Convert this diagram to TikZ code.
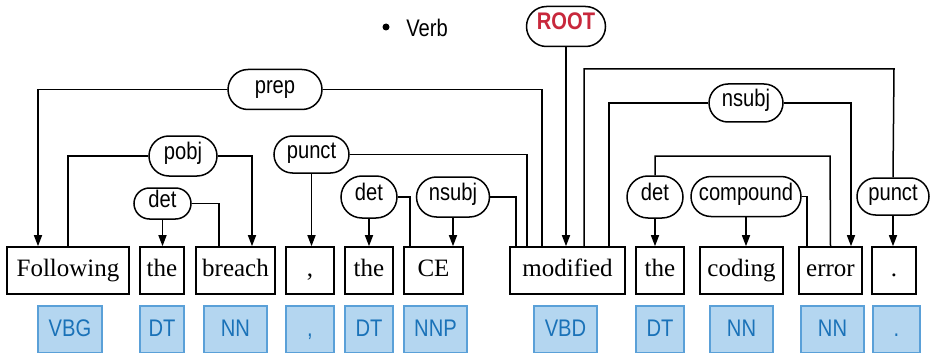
\documentclass[tikz,border=0pt]{standalone}
\usepackage{fontspec}
\usepackage{tikz}
\usetikzlibrary{arrows.meta,shapes.misc,calc}
\newfontfamily\lblfont[FakeStretch=0.84]{Liberation Sans}
\newfontfamily\tokfont{Liberation Serif}
\definecolor{tagfill}{RGB}{180,214,240}
\definecolor{tagline}{RGB}{90,160,216}
\definecolor{tagtext}{RGB}{26,114,184}
\definecolor{rootred}{RGB}{200,40,60}
\newcommand{\relfont}{\lblfont\fontsize{24pt}{28pt}\selectfont}
\newcommand{\wordfont}{\tokfont\fontsize{25pt}{29pt}\selectfont}

\begin{document}
\begin{tikzpicture}[x=1pt,y=-1pt,
  word/.style={draw,line width=1.6pt,minimum height=47pt,inner sep=0pt,font=\wordfont,text height=17pt,text depth=6pt},
  tag/.style={draw=tagline,fill=tagfill,line width=1.3pt,minimum height=47pt,inner sep=0pt,font=\relfont,text=tagtext,text height=17pt,text depth=3pt},
  rel/.style={draw,rounded rectangle,line width=1.5pt,fill=white,minimum height=40pt,inner sep=0pt,font=\relfont,text height=13pt,text depth=6pt},
  dep/.style={line width=1.5pt,-{Triangle[width=8pt,length=11pt]}},
  link/.style={line width=1.5pt}]
  \useasboundingbox (0,0) rectangle (930,353);

  % legend
  \node[circle,fill,inner sep=0pt,minimum size=7pt] (vdot) at (386,27) {};
  \node[font=\relfont,inner sep=0pt] (verb) at (427,28) {Verb};

  % tokens and their tags
  \foreach \n/\x/\w/\t in {1/68/122/Following, 2/162/44/the, 3/235.5/79/breach, 4/310/48/{,},
      5/369/48/the, 6/433.5/59/CE, 7/567.5/115/modified, 8/660/48/the, 9/741.5/83/coding,
      10/830.5/63/error, 11/894/44/.}
    \node[word,minimum width=\w pt] (w\n) at (\x,270.5) {\t};
  \foreach \n/\x/\w/\t in {1/70/64/VBG, 2/162/44/DT, 3/235.5/63/NN, 4/310/48/{,},
      5/369/48/DT, 6/435.5/63/NNP, 7/565.5/63/VBD, 8/660/48/DT, 9/741.5/63/NN,
      10/832.5/63/NN, 11/896.5/47/.}
    \node[tag,minimum width=\w pt] (p\n) at (\x,329.5) {\t};

  % relation labels
  \node[rel,minimum width=94pt] (prep) at (275,89.5) {prep};
  \node[rel,minimum width=68pt] (pobj) at (183,156) {pobj};
  \node[rel,minimum width=57pt,minimum height=31pt] (det1) at (162.5,203.5) {det};
  \node[rel,minimum width=75pt,minimum height=37pt] (punct1) at (311.5,154.5) {punct};
  \node[rel,minimum width=56pt,minimum height=42pt] (det2) at (369,197) {det};
  \node[rel,minimum width=73pt] (nsubj1) at (453,197) {nsubj};
  \node[rel,minimum width=79pt,text=rootred,font=\relfont\bfseries] (root) at (566,26.5) {ROOT};
  \node[rel,minimum width=74pt,minimum height=38pt] (nsubj2) at (746,103) {nsubj};
  \node[rel,minimum width=56pt,minimum height=42pt] (det3) at (655,197) {det};
  \node[rel,minimum width=110pt] (compound) at (746,196.5) {compound};
  \node[rel,minimum width=72pt,minimum height=37pt] (punct2) at (893,196.5) {punct};
  \coordinate (punctbar) at (894,69);
  \coordinate (detbar) at (830,156);

  % arcs: head side plain, dependent side with arrow
  \draw[dep] (prep.west) -| ([xshift=-30pt]w1.north);
  \draw[link] (prep.east) -| ([xshift=-25.5pt]w7.north);
  \draw[link] (pobj.west) -| (w1.north);
  \draw[dep] (pobj.east) -| ([xshift=16.5pt]w3.north);
  \draw[dep] (det1.south) -- (det1.south |- w2.north);
  \draw[link] (det1.east) -| ([xshift=-16.5pt]w3.north);
  \draw[dep] (punct1.south) -- (punct1.south |- w4.north);
  \draw[link] (punct1.east) -| ([xshift=18pt]w7.north west);
  \draw[dep] (det2.south) -- (det2.south |- w5.north);
  \draw[link] (det2.east) -| ([xshift=7pt]w6.north west);
  \draw[dep] (nsubj1.south) -- (nsubj1.south |- w6.north);
  \draw[link] (nsubj1.east) -| ([xshift=7pt]w7.north west);
  \draw[dep] (root.south) -- (root.south |- w7.north);
  \draw[link] ([xshift=16.5pt]w7.north) |- (punctbar) -- (punct2.north);
  \draw[dep] (punct2.south) -- (punct2.south |- w11.north);
  \draw[link] (nsubj2.west) -| ([xshift=41.5pt]w7.north);
  \draw[dep] (nsubj2.east) -| ([xshift=20.5pt]w10.north);
  \draw[link] (det3.north) |- (detbar) -- (w10.north);
  \draw[dep] (det3.south) -- (det3.south |- w8.north);
  \draw[dep] (compound.south) -- (compound.south |- w9.north);
  \draw[link] (compound.east) -| ([xshift=9pt]w10.north west);
\end{tikzpicture}
\end{document}
